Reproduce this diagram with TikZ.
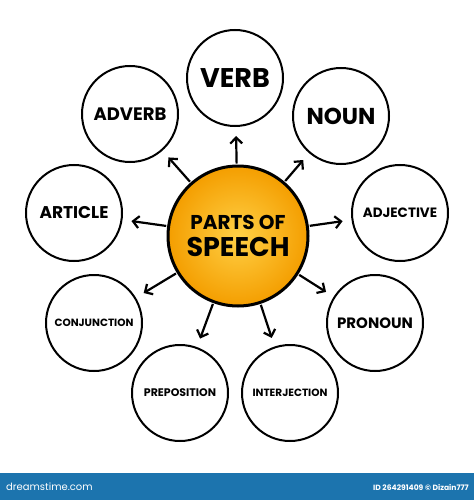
\documentclass[tikz,border=0pt]{standalone}
\usepackage{fontspec}
\setmainfont{Poppins}
\usetikzlibrary{arrows.meta}
\definecolor{bannerblue}{HTML}{1C74AE}
\definecolor{hubin}{RGB}{255,208,70}
\definecolor{hubout}{RGB}{244,158,0}
\tikzset{
  part/.style={circle, draw=black, line width=2pt, fill=white, minimum size=96pt, inner sep=0pt, font=\bfseries},
  hub/.style={circle, draw=black, line width=3pt, inner color=hubin, outer color=hubout, minimum size=140pt, inner sep=0pt, align=center, font=\bfseries},
  arr/.style={line width=2.2pt, -{Straight Barb[length=6pt,width=12pt]}, shorten >=9pt, shorten <=1pt},
  bannertext/.style={text=white, inner sep=0pt},
}
\begin{document}
\begin{tikzpicture}[x=1pt,y=-1pt]
\useasboundingbox (0,0) rectangle (474,500);
\node[hub] (c) at (238,236) {{\fontsize{20}{20}\selectfont PARTS OF}\\[7pt]{\fontsize{27}{27}\selectfont SPEECH}};
\node[part] (verb) at (235,78) {\fontsize{27}{27}\selectfont VERB};
\node[part] (noun) at (341,116) {\fontsize{23}{23}\selectfont NOUN};
\node[part] (adverb) at (130,114) {\fontsize{18}{18}\selectfont ADVERB};
\node[part] (article) at (74,213) {\fontsize{17}{17}\selectfont ARTICLE};
\node[part] (adjective) at (400,213) {\fontsize{13.5}{13.5}\selectfont ADJECTIVE};
\node[part] (conjunction) at (94,323) {\fontsize{10.5}{10.5}\selectfont CONJUNCTION};
\node[part] (pronoun) at (375,323) {\fontsize{15}{15}\selectfont PRONOUN};
\node[part] (preposition) at (180,393) {\fontsize{11}{11}\selectfont PREPOSITION};
\node[part] (interjection) at (290,393) {\fontsize{10.5}{10.5}\selectfont INTERJECTION};
\foreach \n in {verb,noun,adverb,article,adjective,conjunction,pronoun,preposition,interjection}
  \draw[arr] (c) -- (\n);
\fill[bannerblue] (0,473) rectangle (474,500);
\node[bannertext, anchor=west, font=\fontsize{10}{10}\selectfont] (brand) at (6,487) {dreamstime.com};
\node[bannertext, anchor=east, font=\bfseries\fontsize{7.6}{7.6}\selectfont] (credit) at (469,487) {ID 264291409 © Dizain777};
\end{tikzpicture}
\end{document}
